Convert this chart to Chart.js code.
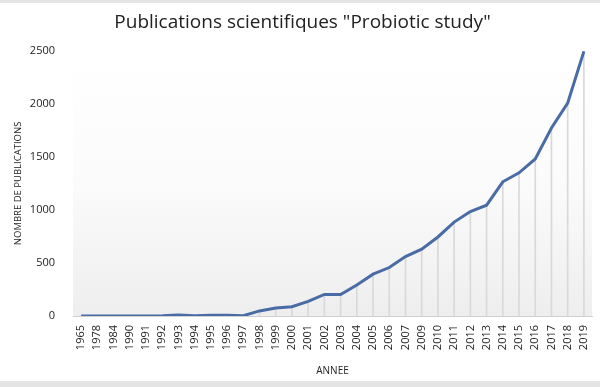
<!DOCTYPE html>
<html>
<head>
<meta charset="utf-8">
<script src="https://cdn.jsdelivr.net/npm/chart.js@4"></script>
<style>
  html, body { margin:0; padding:0; background:#e4e4e4; }
  .wrap { position:relative; width:600px; height:378px; margin-top:3px; background:#fff; }
</style>
</head>
<body>
<div class="wrap"><canvas id="chart" width="600" height="378"></canvas></div>
<script>
// Data
const years = ['1965','1978','1984','1990','1991','1992','1993','1994','1995','1996','1997','1998','1999','2000','2001','2002','2003','2004','2005','2006','2007','2009','2010','2011','2012','2013','2014','2015','2016','2017','2018','2019'];
const publications = [0,0,0,0,0,2,10,2,8,8,3,48,75,88,137,203,203,292,394,457,560,630,745,885,985,1045,1265,1350,1480,1772,2008,2495];
const yTicks = [0,500,1000,1500,2000,2500];

const FONT = '"Open Sans", sans-serif';

// plot background: white at top, light grey at the bottom
const plotBg = {
  id:'plotBg',
  beforeDraw(chart){
    const {ctx, chartArea:a} = chart;
    const g = ctx.createLinearGradient(0, a.top, 0, a.bottom);
    g.addColorStop(0, '#ffffff');
    g.addColorStop(0.5, '#fbfbfb');
    g.addColorStop(1, '#eeeeee');
    ctx.save(); ctx.fillStyle = g; ctx.fillRect(a.left, a.top, a.right - a.left, a.bottom - a.top); ctx.restore();
  }
};

new Chart(document.getElementById('chart'), {
  data:{
    labels: years,
    datasets:[
      {type:'line', data:publications, borderColor:'#4a6ca6', borderWidth:3, pointRadius:0, tension:0, order:0},
      // drop lines
      {type:'bar', data:publications, backgroundColor:'#d9d9d9', barThickness:1, order:1}
    ]
  },
  options:{
    responsive:false,
    animation:false,
    layout:{padding:{left:13, right:8, top:0, bottom:4}},
    plugins:{
      legend:{display:false},
      tooltip:{enabled:false},
      title:{display:true, text:'Publications scientifiques "Probiotic study"', color:'#222', font:{family:FONT, size:19, weight:'normal'}, padding:{top:8, bottom:17}}
    },
    scales:{
      x:{
        offset:true,
        grid:{display:false, drawTicks:false},
        border:{display:true, color:'#d0d0d0', width:1},
        ticks:{color:'#222', font:{family:FONT, size:11}, maxRotation:90, minRotation:90, autoSkip:false, padding:9},
        title:{display:true, text:'ANNEE', color:'#222', font:{family:FONT, size:10}, padding:{top:8, bottom:0}},
        afterFit(axis){ axis.height = 61; axis.paddingLeft = 0; axis.paddingRight = 0; }
      },
      y:{
        min:0, max:2500,
        afterBuildTicks(axis){ axis.ticks = yTicks.map(v=>({value:v})); },
        grid:{display:false, drawTicks:false},
        border:{display:false},
        ticks:{color:'#222', font:{family:FONT, size:11}, padding:18, callback:v=>String(v)},
        title:{display:true, text:'NOMBRE DE PUBLICATIONS', color:'#222', font:{family:FONT, size:9.5}, padding:{top:0, bottom:4}},
        afterFit(axis){ axis.width = 60; }
      }
    }
  },
  plugins:[plotBg]
});
</script>
</body>
</html>
